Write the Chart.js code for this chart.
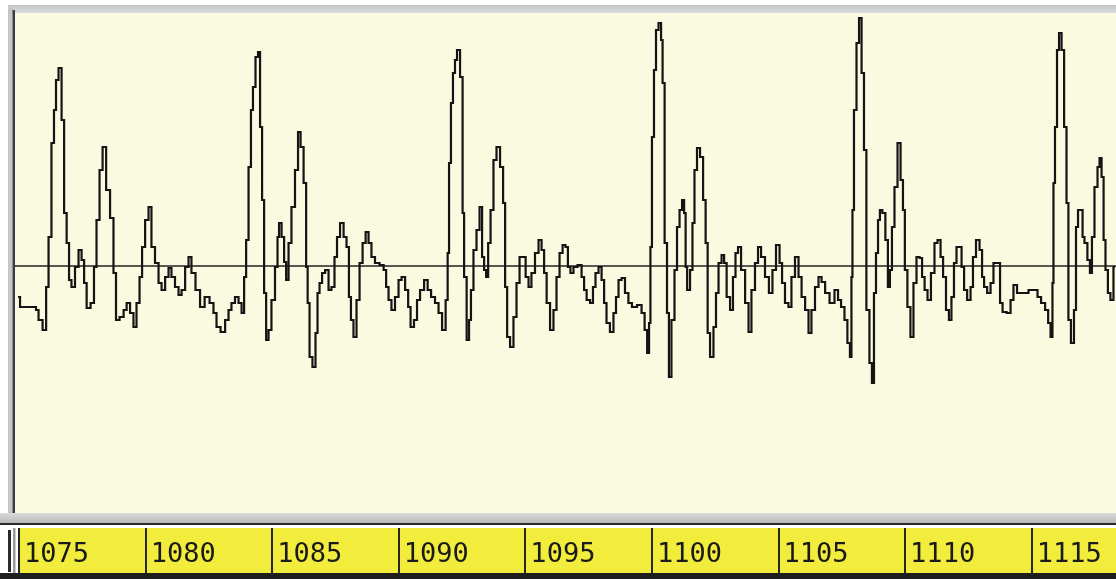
<!DOCTYPE html>
<html>
<head>
<meta charset="utf-8">
<script src="https://cdn.jsdelivr.net/npm/chart.js@4"></script>
<style>
  html, body { margin: 0; padding: 0; background: #ffffff; }
  #wrap { width: 1116px; height: 579px; }
</style>
</head>
<body>
<div id="wrap"><canvas id="c" width="1116" height="579"></canvas></div>
<script>
// ---- data (time in axis units, amplitude relative to baseline) ----
const times = [
  1074.96,1075.12,1075.63,1075.71,1075.83,1076.03,1076.11,1076.22,1076.34,1076.42,
  1076.50,1076.62,1076.74,1076.82,1076.94,1077.01,1077.13,1077.29,1077.41,1077.53,
  1077.61,1077.73,1077.92,1078.00,1078.12,1078.24,1078.36,1078.52,1078.67,1078.79,
  1078.87,1079.07,1079.19,1079.31,1079.46,1079.58,1079.70,1079.82,1079.90,1080.06,
  1080.17,1080.29,1080.45,1080.57,1080.69,1080.85,1080.96,1081.08,1081.24,1081.36,
  1081.48,1081.64,1081.75,1081.87,1082.07,1082.23,1082.43,1082.62,1082.74,1082.86,
  1083.06,1083.22,1083.33,1083.45,1083.61,1083.73,1083.85,1083.93,1084.01,1084.12,
  1084.20,1084.28,1084.40,1084.48,1084.56,1084.64,1084.72,1084.80,1084.91,1085.03,
  1085.19,1085.23,1085.31,1085.43,1085.51,1085.59,1085.70,1085.82,1085.98,1086.06,
  1086.18,1086.30,1086.38,1086.42,1086.53,1086.65,1086.77,1086.81,1086.93,1087.01,
  1087.17,1087.28,1087.40,1087.52,1087.60,1087.76,1087.88,1087.99,1088.07,1088.15,
  1088.27,1088.39,1088.51,1088.63,1088.75,1088.86,1088.98,1089.14,1089.34,1089.46,
  1089.54,1089.65,1089.77,1089.93,1090.05,1090.17,1090.33,1090.41,1090.52,1090.68,
  1090.76,1090.92,1091.08,1091.20,1091.35,1091.51,1091.63,1091.79,1091.91,1091.95,
  1092.02,1092.10,1092.18,1092.26,1092.34,1092.50,1092.54,1092.62,1092.74,1092.81,
  1092.89,1093.01,1093.13,1093.25,1093.33,1093.41,1093.49,1093.57,1093.68,1093.80,
  1093.92,1094.08,1094.16,1094.24,1094.32,1094.47,1094.59,1094.71,1094.83,1094.95,
  1095.07,1095.18,1095.30,1095.46,1095.58,1095.70,1095.78,1095.90,1096.05,1096.17,
  1096.29,1096.41,1096.53,1096.64,1096.72,1096.84,1096.96,1097.16,1097.28,1097.36,
  1097.48,1097.63,1097.71,1097.83,1097.95,1098.07,1098.15,1098.26,1098.42,1098.54,
  1098.62,1098.74,1098.86,1099.01,1099.13,1099.29,1099.53,1099.65,1099.77,1099.85,
  1099.92,1099.96,1100.04,1100.12,1100.20,1100.32,1100.40,1100.44,1100.56,1100.63,
  1100.71,1100.83,1100.95,1101.03,1101.15,1101.23,1101.31,1101.35,1101.43,1101.58,
  1101.62,1101.74,1101.82,1101.98,1102.06,1102.18,1102.22,1102.37,1102.49,1102.57,
  1102.69,1102.81,1102.89,1103.01,1103.16,1103.24,1103.36,1103.44,1103.60,1103.76,
  1103.87,1103.99,1104.15,1104.23,1104.39,1104.54,1104.70,1104.82,1104.98,1105.10,
  1105.18,1105.33,1105.45,1105.57,1105.73,1105.85,1105.97,1106.13,1106.24,1106.36,
  1106.52,1106.64,1106.76,1106.92,1107.11,1107.31,1107.39,1107.55,1107.66,1107.78,
  1107.86,1107.90,1107.94,1108.02,1108.14,1108.22,1108.34,1108.41,1108.53,1108.65,
  1108.73,1108.81,1108.89,1108.97,1109.04,1109.16,1109.28,1109.36,1109.44,1109.52,
  1109.64,1109.76,1109.88,1109.95,1110.03,1110.15,1110.27,1110.39,1110.51,1110.63,
  1110.71,1110.83,1110.94,1111.10,1111.22,1111.34,1111.46,1111.54,1111.69,1111.77,
  1111.89,1111.97,1112.09,1112.17,1112.29,1112.37,1112.53,1112.64,1112.72,1112.88,
  1113.00,1113.08,1113.16,1113.32,1113.43,1113.55,1113.71,1113.79,1113.91,1114.11,
  1114.22,1114.34,1114.50,1114.78,1114.97,1115.17,1115.29,1115.45,1115.61,1115.69,
  1115.80,1115.84,1115.88,1115.96,1116.04,1116.12,1116.24,1116.32,1116.43,1116.47,
  1116.63,1116.71,1116.79,1116.87,1116.99,1117.03,1117.14,1117.26,1117.34,1117.42,
  1117.54,1117.66,1117.70,1117.82,1117.86,1117.97,1118.05,1118.17,1118.29
];
const amplitudes = [
  -3.1,-4.1,-4.1,-4.4,-5.4,-6.4,-2.1,2.9,12.3,15.6,
  18.6,19.8,14.6,5.3,2.3,-1.4,-2.1,-0.1,1.6,0.6,
  -1.7,-4.2,-3.7,-0.1,4.6,9.6,11.9,7.6,4.8,-0.7,
  -5.4,-5.1,-4.4,-3.7,-4.7,-6.1,-3.7,-1.1,1.9,4.6,
  5.9,1.9,0.3,-1.7,-2.4,-1.1,-0.2,-1.1,-2.1,-2.9,
  -2.4,-0.1,0.9,-0.7,-2.4,-4.1,-3.1,-3.7,-4.7,-6.1,
  -6.6,-5.4,-4.4,-3.7,-3.1,-3.7,-4.7,-1.1,2.6,9.9,
  15.6,17.9,20.9,21.4,13.9,6.6,-2.7,-7.4,-6.4,-3.4,
  -0.1,2.9,4.3,2.9,0.4,-1.4,2.3,5.9,9.6,13.4,
  11.9,8.3,-0.1,-3.7,-9.1,-10.1,-6.7,-2.7,-1.7,-0.7,
  -0.4,-2.4,-2.1,0.9,2.9,4.3,2.9,1.9,-3.1,-5.4,
  -7.1,-3.4,0.3,2.3,3.4,2.3,0.9,0.3,0.1,-0.4,
  -2.1,-3.4,-4.4,-3.1,-1.4,-1.1,-2.4,-4.1,-6.1,-5.4,
  -3.4,-2.4,-1.4,-2.4,-3.1,-3.7,-4.7,-6.4,-3.4,1.3,
  10.3,16.3,19.3,20.6,21.6,18.9,5.3,-1.1,-7.4,-5.4,
  -2.4,1.6,3.6,5.9,0.9,-0.4,-1.1,2.3,5.6,10.6,
  11.9,9.9,6.3,-2.1,-7.1,-8.1,-5.1,-1.7,0.9,0.9,
  -1.1,-2.1,-0.7,1.3,2.6,1.6,-0.7,-3.7,-6.4,-4.4,
  -1.1,1.3,2.1,1.9,-0.1,-0.7,-0.1,0.1,-1.1,-2.4,
  -3.4,-3.7,-2.1,-0.7,-0.1,-1.4,-3.7,-5.7,-6.6,-4.7,
  -3.1,-1.4,-1.2,-2.7,-3.7,-4.1,-3.9,-4.7,-6.4,-8.7,
  -5.7,1.9,12.9,19.6,23.6,24.3,22.6,18.3,2.3,-4.7,
  -11.1,-5.4,-0.4,3.9,5.6,6.6,5.3,-0.1,-2.4,-0.4,
  4.3,9.6,11.8,10.9,6.6,2.3,-6.7,-9.1,-6.1,-2.7,
  0.3,1.1,0.3,-3.1,-4.4,-1.1,1.3,1.9,-0.4,-3.7,
  -6.6,-2.4,0.3,1.9,0.9,-1.1,-2.7,-0.4,2.1,0.3,
  -1.7,-3.7,-4.1,-1.1,0.9,-1.1,-3.1,-4.4,-6.7,-4.4,
  -2.1,-1.1,-1.6,-2.7,-3.7,-2.4,-3.4,-4.1,-5.4,-7.7,
  -9.1,-1.1,5.6,15.6,22.3,24.8,19.3,11.6,-4.4,-9.7,
  -11.7,-2.7,1.3,4.6,5.6,5.3,2.6,-2.1,-0.4,3.9,
  7.9,12.3,8.6,5.6,-0.4,-4.1,-7.1,-1.7,0.9,0.8,
  -1.1,-2.4,-3.4,-0.7,2.3,2.6,0.9,-1.1,-4.4,-5.4,
  -3.1,0.3,1.9,1.9,-0.1,-2.4,-3.4,-2.1,0.9,2.6,
  1.6,-1.1,-2.1,-2.7,-1.7,0.3,0.3,-3.7,-4.6,-4.7,
  -3.4,-1.9,-2.7,-2.7,-2.4,-2.4,-3.1,-3.7,-4.4,-5.7,
  -7.1,-1.7,8.3,13.9,21.6,23.3,21.6,13.9,6.3,-5.4,
  -7.7,-4.4,3.9,5.6,5.6,2.9,2.3,0.6,-0.7,2.9,
  7.9,9.9,10.8,8.9,2.6,-0.4,-2.7,-3.4,-0.1
];
const tickValues = [1075, 1080, 1085, 1090, 1095, 1100, 1105, 1110, 1115];
const tickLabels = ['1075', '1080', '1085', '1090', '1095', '1100', '1105', '1110', '1115'];
const xRange = [1074.84, 1118.33];
const yRange = [-24.7, 25.3];
const baselineValue = [0, 0];

// ---- chrome drawn behind the chart ----
const chrome = {
  id: 'chrome',
  beforeDraw(chart) {
    const ctx = chart.ctx, ca = chart.chartArea, W = chart.width, H = chart.height;
    const xs = chart.scales.x;
    ctx.save();
    ctx.fillStyle = '#ffffff';
    ctx.fillRect(0, 0, W, H);
    // top grey bar
    let g = ctx.createLinearGradient(0, 5, 0, 13);
    g.addColorStop(0, '#c2c4c6'); g.addColorStop(1, '#dcdddd');
    ctx.fillStyle = g; ctx.fillRect(8, 5, W - 8, 8);
    // left border
    ctx.fillStyle = '#c4c6c8'; ctx.fillRect(8, 8, 4.5, ca.bottom - 8);
    ctx.fillStyle = '#3b3b3b'; ctx.fillRect(12.5, 10, 2.5, ca.bottom - 10);
    // plot background
    ctx.fillStyle = '#fafae1';
    ctx.fillRect(ca.left, ca.top, ca.right - ca.left, ca.bottom - ca.top);
    // bottom grey bar
    g = ctx.createLinearGradient(0, ca.bottom, 0, ca.bottom + 10);
    g.addColorStop(0, '#dadada'); g.addColorStop(1, '#b6b8ba');
    ctx.fillStyle = g; ctx.fillRect(0, ca.bottom, W, 10);
    ctx.fillStyle = '#2a2a2a'; ctx.fillRect(0, ca.bottom + 10, W, 2);
    // yellow strip
    const stripTop = ca.bottom + 15, stripBot = H - 6;
    const firstX = xs.getPixelForValue(tickValues[0]);
    ctx.fillStyle = '#f2ec3c';
    ctx.fillRect(firstX, stripTop, W - firstX, stripBot - stripTop);
    ctx.fillStyle = '#1e1e1e';
    ctx.fillRect(0, stripBot, W, H - stripBot);
    // left marks
    ctx.fillStyle = '#2a2a2a'; ctx.fillRect(8, stripTop + 2, 3, stripBot - stripTop - 3);
    ctx.fillStyle = '#9a9a9a'; ctx.fillRect(13, stripTop, 2.5, stripBot - stripTop);
    // separators at ticks
    ctx.fillStyle = '#262626';
    tickValues.forEach(v => {
      const px = xs.getPixelForValue(v);
      ctx.fillRect(Math.round(px) - 1, stripTop, 2, stripBot - stripTop);
    });
    ctx.restore();
  }
};

new Chart(document.getElementById('c'), {
  type: 'line',
  data: {
    datasets: [
      {
        label: 'signal',
        data: times.map((t, i) => ({ x: t, y: amplitudes[i] })),
        borderColor: '#141414',
        borderWidth: 2.2,
        pointRadius: 0,
        pointHoverRadius: 0,
        stepped: 'middle',
        fill: false,
        order: 0
      },
      {
        label: 'baseline',
        data: xRange.map((t, i) => ({ x: t, y: baselineValue[i] })),
        borderColor: '#222222',
        borderWidth: 1.5,
        pointRadius: 0,
        pointHoverRadius: 0,
        fill: false,
        order: 1
      }
    ]
  },
  options: {
    responsive: false,
    animation: false,
    devicePixelRatio: 1,
    layout: { autoPadding: false, padding: { left: 15, top: 13, right: 0, bottom: 0 } },
    plugins: { legend: { display: false }, tooltip: { enabled: false } },
    scales: {
      x: {
        type: 'linear',
        min: xRange[0],
        max: xRange[1],
        afterBuildTicks: s => { s.ticks = tickValues.map(v => ({ value: v })); },
        afterFit: s => { s.height = 66; s.paddingLeft = 0; s.paddingRight = 0; },
        grid: { display: false, drawTicks: false },
        border: { display: false },
        ticks: {
          autoSkip: false,
          maxRotation: 0,
          align: 'start',
          labelOffset: 5,
          padding: 26,
          color: '#1a1a1a',
          font: { family: 'DejaVu Sans Mono', size: 27 },
          callback: (v, i) => tickLabels[i]
        }
      },
      y: { display: false, min: yRange[0], max: yRange[1] }
    }
  },
  plugins: [chrome]
});
</script>
</body>
</html>
